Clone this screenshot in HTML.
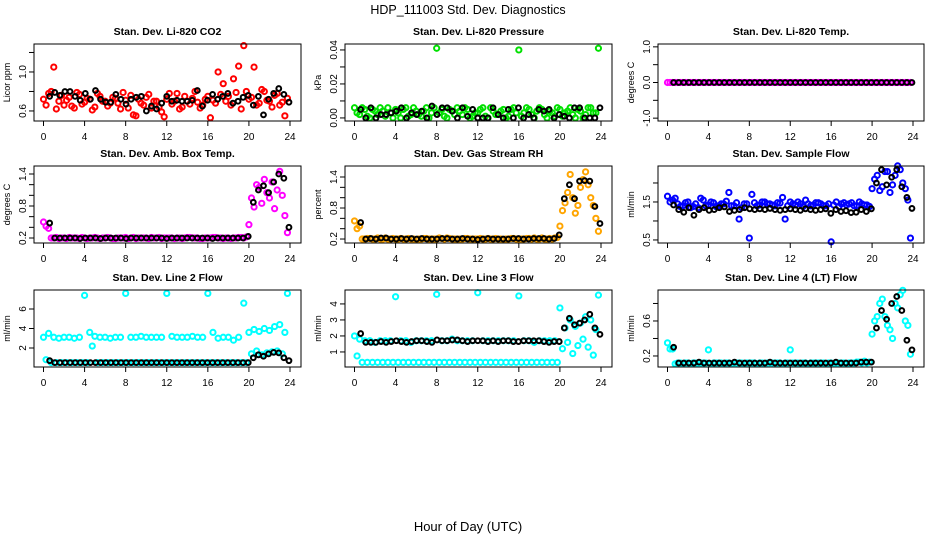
<!DOCTYPE html>
<html><head><meta charset="utf-8"><style>
body{margin:0;background:#fff;}
svg{display:block;font-family:"Liberation Sans",Arial,sans-serif;}
</style></head><body>
<svg id="chart" width="936" height="540" viewBox="0 0 936 540">
<text x="468" y="14" text-anchor="middle" font-size="12.5">HDP_111003  Std. Dev. Diagnostics</text>
<text x="468" y="531" text-anchor="middle" font-size="13">Hour of Day (UTC)</text>
</svg>
<script>
const xTicks = [0,4,8,12,16,20,24];
const co2ColA = [0.72,0.78,1.05,0.70,0.66,0.74,0.63,0.77,0.69,0.72,0.64,0.75,0.70,0.68,0.73,0.62,0.71,0.76,0.55,0.68,0.74,0.63,0.70,0.59,0.72,0.67,0.78,0.64,0.70,0.73,0.69,0.66,0.75,0.71,1.00,0.88,0.75,0.93,1.06,1.27,0.72,1.05,0.68,0.80,0.70,0.76,0.66,0.55];
const co2ColB = [0.66,0.80,0.62,0.76,0.71,0.65,0.79,0.67,0.73,0.61,0.78,0.70,0.65,0.74,0.68,0.79,0.63,0.56,0.72,0.66,0.77,0.70,0.64,0.54,0.78,0.70,0.62,0.75,0.67,0.80,0.63,0.72,0.53,0.68,0.77,0.70,0.66,0.79,0.62,0.80,0.74,0.66,0.82,0.71,0.64,0.78,0.69,0.73];
const co2Blk = [0.75,0.79,0.76,0.80,0.80,0.75,0.71,0.78,0.72,0.81,0.72,0.69,0.69,0.77,0.72,0.67,0.72,0.74,0.75,0.60,0.65,0.62,0.68,0.75,0.70,0.71,0.70,0.70,0.71,0.81,0.65,0.71,0.77,0.72,0.75,0.78,0.68,0.70,0.74,0.76,0.66,0.75,0.56,0.72,0.78,0.83,0.77,0.69];
const presColA = [0.006,0.002,0.005,0.000,0.004,0.006,0.001,0.003,0.005,0.000,0.006,0.002,0.004,0.001,0.006,0.003,0.041,0.005,0.000,0.004,0.006,0.002,0.005,0.001,0.003,0.006,0.000,0.004,0.002,0.005,0.001,0.006,0.040,0.003,0.005,0.000,0.006,0.002,0.004,0.001,0.005,0.003,0.006,0.000,0.004,0.002,0.006,0.003];
const presColB = [0.003,0.006,0.001,0.005,0.002,0.004,0.006,0.000,0.003,0.005,0.001,0.006,0.002,0.004,0.000,0.006,0.003,0.001,0.005,0.002,0.004,0.006,0.000,0.003,0.005,0.001,0.006,0.002,0.004,0.000,0.005,0.003,0.001,0.006,0.002,0.004,0.005,0.000,0.003,0.006,0.001,0.004,0.002,0.005,0.000,0.006,0.003,0.041];
const presBlk = [0.005,0.000,0.006,0.000,0.002,0.002,0.003,0.004,0.006,0.000,0.003,0.002,0.004,0.000,0.007,0.002,0.006,0.006,0.004,0.000,0.006,0.001,0.005,0.000,0.000,0.000,0.006,0.002,0.000,0.005,0.000,0.006,0.000,0.002,0.000,0.005,0.004,0.005,0.000,0.002,0.001,0.000,0.006,0.006,0.000,0.000,0.000,0.006];
const tempColA = [0,0,0,0,0,0,0,0,0,0,0,0,0,0,0,0,0,0,0,0,0,0,0,0,0,0,0,0,0,0,0,0,0,0,0,0,0,0,0,0,0,0,0,0,0,0,0,0];
const tempColB = [0,0,0,0,0,0,0,0,0,0,0,0,0,0,0,0,0,0,0,0,0,0,0,0,0,0,0,0,0,0,0,0,0,0,0,0,0,0,0,0,0,0,0,0,0,0,0,0];
const tempBlk = [0,0,0,0,0,0,0,0,0,0,0,0,0,0,0,0,0,0,0,0,0,0,0,0,0,0,0,0,0,0,0,0,0,0,0,0,0,0,0,0,0,0,0,0,0,0,0,0];
const ambColA = [0.50,0.38,0.20,0.19,0.20,0.21,0.20,0.19,0.20,0.20,0.21,0.19,0.20,0.20,0.19,0.20,0.21,0.20,0.19,0.20,0.20,0.21,0.20,0.19,0.20,0.20,0.20,0.19,0.21,0.20,0.20,0.19,0.20,0.21,0.20,0.19,0.20,0.20,0.21,0.20,0.45,0.78,1.15,1.30,0.95,0.75,1.45,0.62];
const ambColB = [0.42,0.20,0.21,0.20,0.19,0.20,0.20,0.21,0.19,0.20,0.20,0.20,0.21,0.19,0.20,0.20,0.19,0.21,0.20,0.20,0.19,0.20,0.21,0.20,0.20,0.19,0.20,0.20,0.21,0.20,0.19,0.20,0.20,0.21,0.20,0.20,0.19,0.20,0.21,0.22,0.95,1.20,0.85,1.05,1.25,1.10,1.00,0.30];
const ambBlk = [0.48,0.20,0.20,0.20,0.20,0.20,0.19,0.20,0.20,0.20,0.19,0.20,0.20,0.20,0.20,0.19,0.20,0.20,0.20,0.20,0.20,0.20,0.20,0.19,0.20,0.20,0.20,0.20,0.20,0.20,0.20,0.20,0.19,0.20,0.20,0.20,0.20,0.20,0.20,0.23,0.87,1.10,1.18,1.05,1.25,1.40,1.32,0.40];
const rhColA = [0.55,0.45,0.20,0.21,0.20,0.20,0.22,0.20,0.20,0.21,0.20,0.20,0.19,0.20,0.21,0.20,0.20,0.21,0.22,0.20,0.20,0.20,0.21,0.20,0.20,0.20,0.21,0.20,0.20,0.19,0.20,0.21,0.20,0.20,0.21,0.22,0.20,0.20,0.21,0.22,0.45,0.90,1.45,0.70,1.20,1.50,1.00,0.60];
const rhColB = [0.40,0.20,0.21,0.20,0.22,0.20,0.20,0.21,0.20,0.20,0.21,0.20,0.20,0.21,0.20,0.20,0.22,0.20,0.21,0.20,0.20,0.21,0.20,0.20,0.21,0.20,0.20,0.21,0.20,0.20,0.21,0.20,0.20,0.21,0.20,0.20,0.22,0.20,0.20,0.23,0.75,1.10,1.00,0.85,1.35,1.25,0.85,0.35];
const rhBlk = [0.52,0.20,0.21,0.20,0.22,0.22,0.20,0.20,0.21,0.20,0.21,0.20,0.21,0.20,0.20,0.20,0.21,0.21,0.20,0.20,0.21,0.20,0.20,0.19,0.20,0.21,0.20,0.20,0.20,0.20,0.21,0.21,0.20,0.20,0.21,0.21,0.21,0.20,0.21,0.28,0.98,1.25,0.98,1.32,1.33,1.32,0.83,0.50];
const flowColA = [1.65,1.55,1.45,1.40,1.50,1.38,1.35,1.55,1.42,1.48,1.40,1.45,1.75,1.40,1.05,1.45,0.55,1.48,1.42,1.50,1.45,1.40,1.47,1.05,1.50,1.42,1.45,1.55,1.40,1.48,1.45,1.40,0.45,1.50,1.45,1.42,1.48,1.40,1.45,1.42,1.85,2.20,1.90,2.30,1.95,2.45,2.00,1.55];
const flowColB = [1.50,1.60,1.38,1.48,1.35,1.45,1.60,1.40,1.50,1.38,1.45,1.52,1.40,1.48,1.35,1.45,1.70,1.40,1.50,1.45,1.42,1.48,1.62,1.40,1.45,1.50,1.38,1.45,1.42,1.48,1.40,1.45,1.42,1.38,1.48,1.45,1.40,1.50,1.42,1.38,2.10,1.80,2.30,1.75,2.20,2.35,1.85,0.55];
const flowBlk = [1.42,1.30,1.23,1.35,1.15,1.30,1.35,1.28,1.30,1.35,1.37,1.25,1.28,1.30,1.35,1.32,1.30,1.32,1.30,1.33,1.30,1.28,1.30,1.32,1.30,1.28,1.32,1.30,1.28,1.30,1.32,1.20,1.30,1.25,1.27,1.22,1.23,1.30,1.25,1.32,2.00,2.35,1.95,2.15,2.35,1.90,1.62,1.33];
const l2ColA = [3.1,3.5,3.1,3.0,3.1,3.1,3.0,3.1,7.4,3.6,3.2,3.1,3.1,3.0,3.1,3.1,7.6,3.1,3.1,3.2,3.1,3.1,3.1,3.1,7.6,3.2,3.1,3.1,3.1,3.2,3.1,3.1,7.6,3.6,3.0,3.1,3.1,2.8,3.1,6.6,3.6,3.9,3.7,4.0,3.8,4.2,4.4,3.6];
const l2ColB = [0.8,0.5,0.5,0.5,0.5,0.5,0.5,0.5,0.5,2.2,0.5,0.5,0.5,0.5,0.5,0.5,0.5,0.5,0.5,0.5,0.5,0.5,0.5,0.5,0.5,0.5,0.5,0.5,0.5,0.5,0.5,0.5,0.5,0.5,0.5,0.5,0.5,0.5,0.5,0.5,1.4,1.7,1.3,1.5,1.6,1.7,1.4,7.6];
const l2Blk = [0.7,0.5,0.5,0.5,0.5,0.5,0.5,0.5,0.5,0.5,0.5,0.5,0.5,0.5,0.5,0.5,0.5,0.5,0.5,0.5,0.5,0.5,0.5,0.5,0.5,0.5,0.5,0.5,0.5,0.5,0.5,0.5,0.5,0.5,0.5,0.5,0.5,0.5,0.5,0.5,1.0,1.3,1.15,1.4,1.55,1.5,1.0,0.7];
const l3ColA = [2.0,1.8,1.7,1.7,1.6,1.7,1.7,1.7,4.45,1.7,1.7,1.6,1.7,1.7,1.7,1.7,4.6,1.7,1.7,1.8,1.7,1.7,1.7,1.7,4.7,1.7,1.7,1.7,1.7,1.7,1.7,1.7,4.5,1.7,1.7,1.6,1.7,1.7,1.7,1.7,3.75,2.5,3.0,2.6,2.8,3.2,3.0,2.4];
const l3ColB = [0.75,0.35,0.35,0.35,0.35,0.35,0.35,0.35,0.35,0.35,0.35,0.35,0.35,0.35,0.35,0.35,0.35,0.35,0.35,0.35,0.35,0.35,0.35,0.35,0.35,0.35,0.35,0.35,0.35,0.35,0.35,0.35,0.35,0.35,0.35,0.35,0.35,0.35,0.35,0.35,1.2,1.6,0.9,1.4,1.8,1.3,0.8,4.55];
const l3Blk = [2.15,1.6,1.6,1.6,1.65,1.6,1.65,1.7,1.65,1.6,1.65,1.7,1.7,1.65,1.6,1.75,1.7,1.7,1.75,1.75,1.7,1.65,1.7,1.7,1.7,1.65,1.7,1.65,1.7,1.7,1.65,1.65,1.7,1.7,1.7,1.7,1.65,1.6,1.65,1.65,2.5,3.1,2.7,2.8,3.0,3.35,2.5,2.1];
const l4ColA = [0.35,0.28,0.12,0.11,0.12,0.12,0.11,0.12,0.27,0.12,0.12,0.11,0.12,0.12,0.12,0.11,0.12,0.12,0.12,0.11,0.12,0.12,0.12,0.12,0.27,0.12,0.11,0.12,0.12,0.12,0.12,0.11,0.12,0.12,0.12,0.11,0.12,0.13,0.12,0.12,0.45,0.65,0.85,0.55,0.40,0.75,0.95,0.55];
const l4ColB = [0.28,0.11,0.12,0.12,0.11,0.12,0.12,0.12,0.11,0.12,0.12,0.12,0.11,0.12,0.12,0.12,0.12,0.11,0.12,0.12,0.12,0.12,0.11,0.12,0.12,0.12,0.12,0.11,0.12,0.12,0.12,0.12,0.11,0.12,0.12,0.12,0.12,0.13,0.14,0.13,0.60,0.80,0.65,0.50,0.80,0.90,0.60,0.22];
const l4Blk = [0.30,0.12,0.12,0.12,0.12,0.13,0.12,0.12,0.12,0.12,0.12,0.12,0.13,0.12,0.12,0.12,0.12,0.12,0.12,0.13,0.12,0.12,0.12,0.12,0.12,0.12,0.12,0.12,0.12,0.12,0.12,0.12,0.13,0.12,0.12,0.12,0.12,0.13,0.13,0.13,0.52,0.72,0.62,0.80,0.88,0.72,0.38,0.27];

const panels = [
 {name:'co2',title:'Stan. Dev. Li-820 CO2',ylab:'Licor ppm',col:'#ff0000',ylim:[0.497,1.287],ticks:[0.6,0.8,1.0,1.2],labels:{'0.6':'0.6','1':'1.0'},a:co2ColA,b:co2ColB,k:co2Blk},
 {name:'pressure',title:'Stan. Dev. Li-820 Pressure',ylab:'kPa',col:'#00e000',ylim:[-0.0018,0.0435],ticks:[0,0.01,0.02,0.03,0.04],labels:{'0':'0.00','0.02':'0.02','0.04':'0.04'},a:presColA,b:presColB,k:presBlk},
 {name:'temp',title:'Stan. Dev. Li-820 Temp.',ylab:'degrees C',col:'#ff00ff',ylim:[-1.08,1.08],ticks:[-1,-0.5,0,0.5,1],labels:{'-1':'-1.0','0':'0.0','1':'1.0'},a:tempColA,b:tempColB,k:tempBlk},
 {name:'amb-temp',title:'Stan. Dev. Amb. Box Temp.',ylab:'degrees C',col:'#ff00ff',ylim:[0.106,1.55],ticks:[0.2,0.4,0.6,0.8,1.0,1.2,1.4],labels:{'0.2':'0.2','0.8':'0.8','1.4':'1.4'},a:ambColA,b:ambColB,k:ambBlk},
 {name:'rh',title:'Stan. Dev. Gas Stream RH',ylab:'percent',col:'#ffa500',ylim:[0.123,1.613],ticks:[0.2,0.4,0.6,0.8,1.0,1.2,1.4],labels:{'0.2':'0.2','0.8':'0.8','1.4':'1.4'},a:rhColA,b:rhColB,k:rhBlk},
 {name:'sample-flow',title:'Stan. Dev. Sample Flow',ylab:'ml/min',col:'#0000ff',ylim:[0.42,2.447],ticks:[0.5,1.0,1.5,2.0],labels:{'0.5':'0.5','1.5':'1.5'},a:flowColA,b:flowColB,k:flowBlk},
 {name:'line2',title:'Stan. Dev. Line 2 Flow',ylab:'ml/min',col:'#00ffff',ylim:[0.05,7.95],ticks:[2,4,6],labels:{'2':'2','4':'4','6':'6'},a:l2ColA,b:l2ColB,k:l2Blk},
 {name:'line3',title:'Stan. Dev. Line 3 Flow',ylab:'ml/min',col:'#00ffff',ylim:[0.06,4.87],ticks:[1,2,3,4],labels:{'1':'1','2':'2','3':'3','4':'4'},a:l3ColA,b:l3ColB,k:l3Blk},
 {name:'line4',title:'Stan. Dev. Line 4 (LT) Flow',ylab:'ml/min',col:'#00ffff',ylim:[0.074,0.954],ticks:[0.2,0.4,0.6,0.8],labels:{'0.2':'0.2','0.6':'0.6'},a:l4ColA,b:l4ColB,k:l4Blk}
];
const colBox=[[34,301],[345,612],[658,924]];
const rowBox=[[44,121],[166,243],[290,367]];
const NS='http://www.w3.org/2000/svg';
const svg=document.getElementById('chart');
function mk(tag,attrs,parent){const e=document.createElementNS(NS,tag);for(const k in attrs)e.setAttribute(k,attrs[k]);(parent||svg).appendChild(e);return e;}
panels.forEach((p,idx)=>{
 const [L,R]=colBox[idx%3],[T,B]=rowBox[Math.floor(idx/3)];
 const x0=L+9.5,x1=R-11;
 const xs=t=>x0+(x1-x0)*t/24;
 const ys=v=>B-(B-T)*(v-p.ylim[0])/(p.ylim[1]-p.ylim[0]);
 const g=mk('g',{});
 
 
 const tt=mk('text',{x:(L+R)/2,y:T-9,'text-anchor':'middle','font-size':'10.5','font-weight':'bold'},g);tt.textContent=p.title;
 
 
 const yl=mk('text',{x:0,y:0,'text-anchor':'middle','font-size':'9',transform:`translate(${L-24},${(T+B)/2}) rotate(-90)`},g);yl.textContent=p.ylab;
 
 
 const pts=mk('g',{fill:'none','stroke-width':'2'},g);
 
 
 p.a.forEach((v,i)=>{const c=mk('circle',{cx:xs(i*0.5),cy:ys(v),r:2.6,stroke:p.col},pts);});
 p.b.forEach((v,i)=>{const c=mk('circle',{cx:xs(i*0.5+0.25),cy:ys(v),r:2.6,stroke:p.col},pts);});
 p.k.forEach((v,i)=>{const c=mk('circle',{cx:xs(0.6+i*0.4957),cy:ys(v),r:2.4,stroke:'#000'},pts);});
 const box=mk('rect',{x:L,y:T,width:R-L,height:B-T,fill:'none',stroke:'#000','stroke-width':'1'},g);
 
 
 mk('line',{x1:x0,x2:x1,y1:B,y2:B,stroke:'#000'},g);
 xTicks.forEach(t=>{mk('line',{x1:xs(t),x2:xs(t),y1:B,y2:B+5,stroke:'#000'},g);
  const lb=mk('text',{x:xs(t),y:B+19,'text-anchor':'middle','font-size':'10'},g);lb.textContent=t;
  
  });
 mk('line',{x1:L,x2:L,y1:ys(p.ticks[0]),y2:ys(p.ticks[p.ticks.length-1]),stroke:'#000'},g);
 p.ticks.forEach(v=>{const y=ys(v);mk('line',{x1:L-5,x2:L,y1:y,y2:y,stroke:'#000'},g);
  const key=String(v);if(p.labels[key]!==undefined){const lb=mk('text',{x:0,y:0,'text-anchor':'middle','font-size':'10',transform:`translate(${L-8},${y}) rotate(-90)`},g);lb.textContent=p.labels[key];
  
  }});
});
</script>
</body></html>
